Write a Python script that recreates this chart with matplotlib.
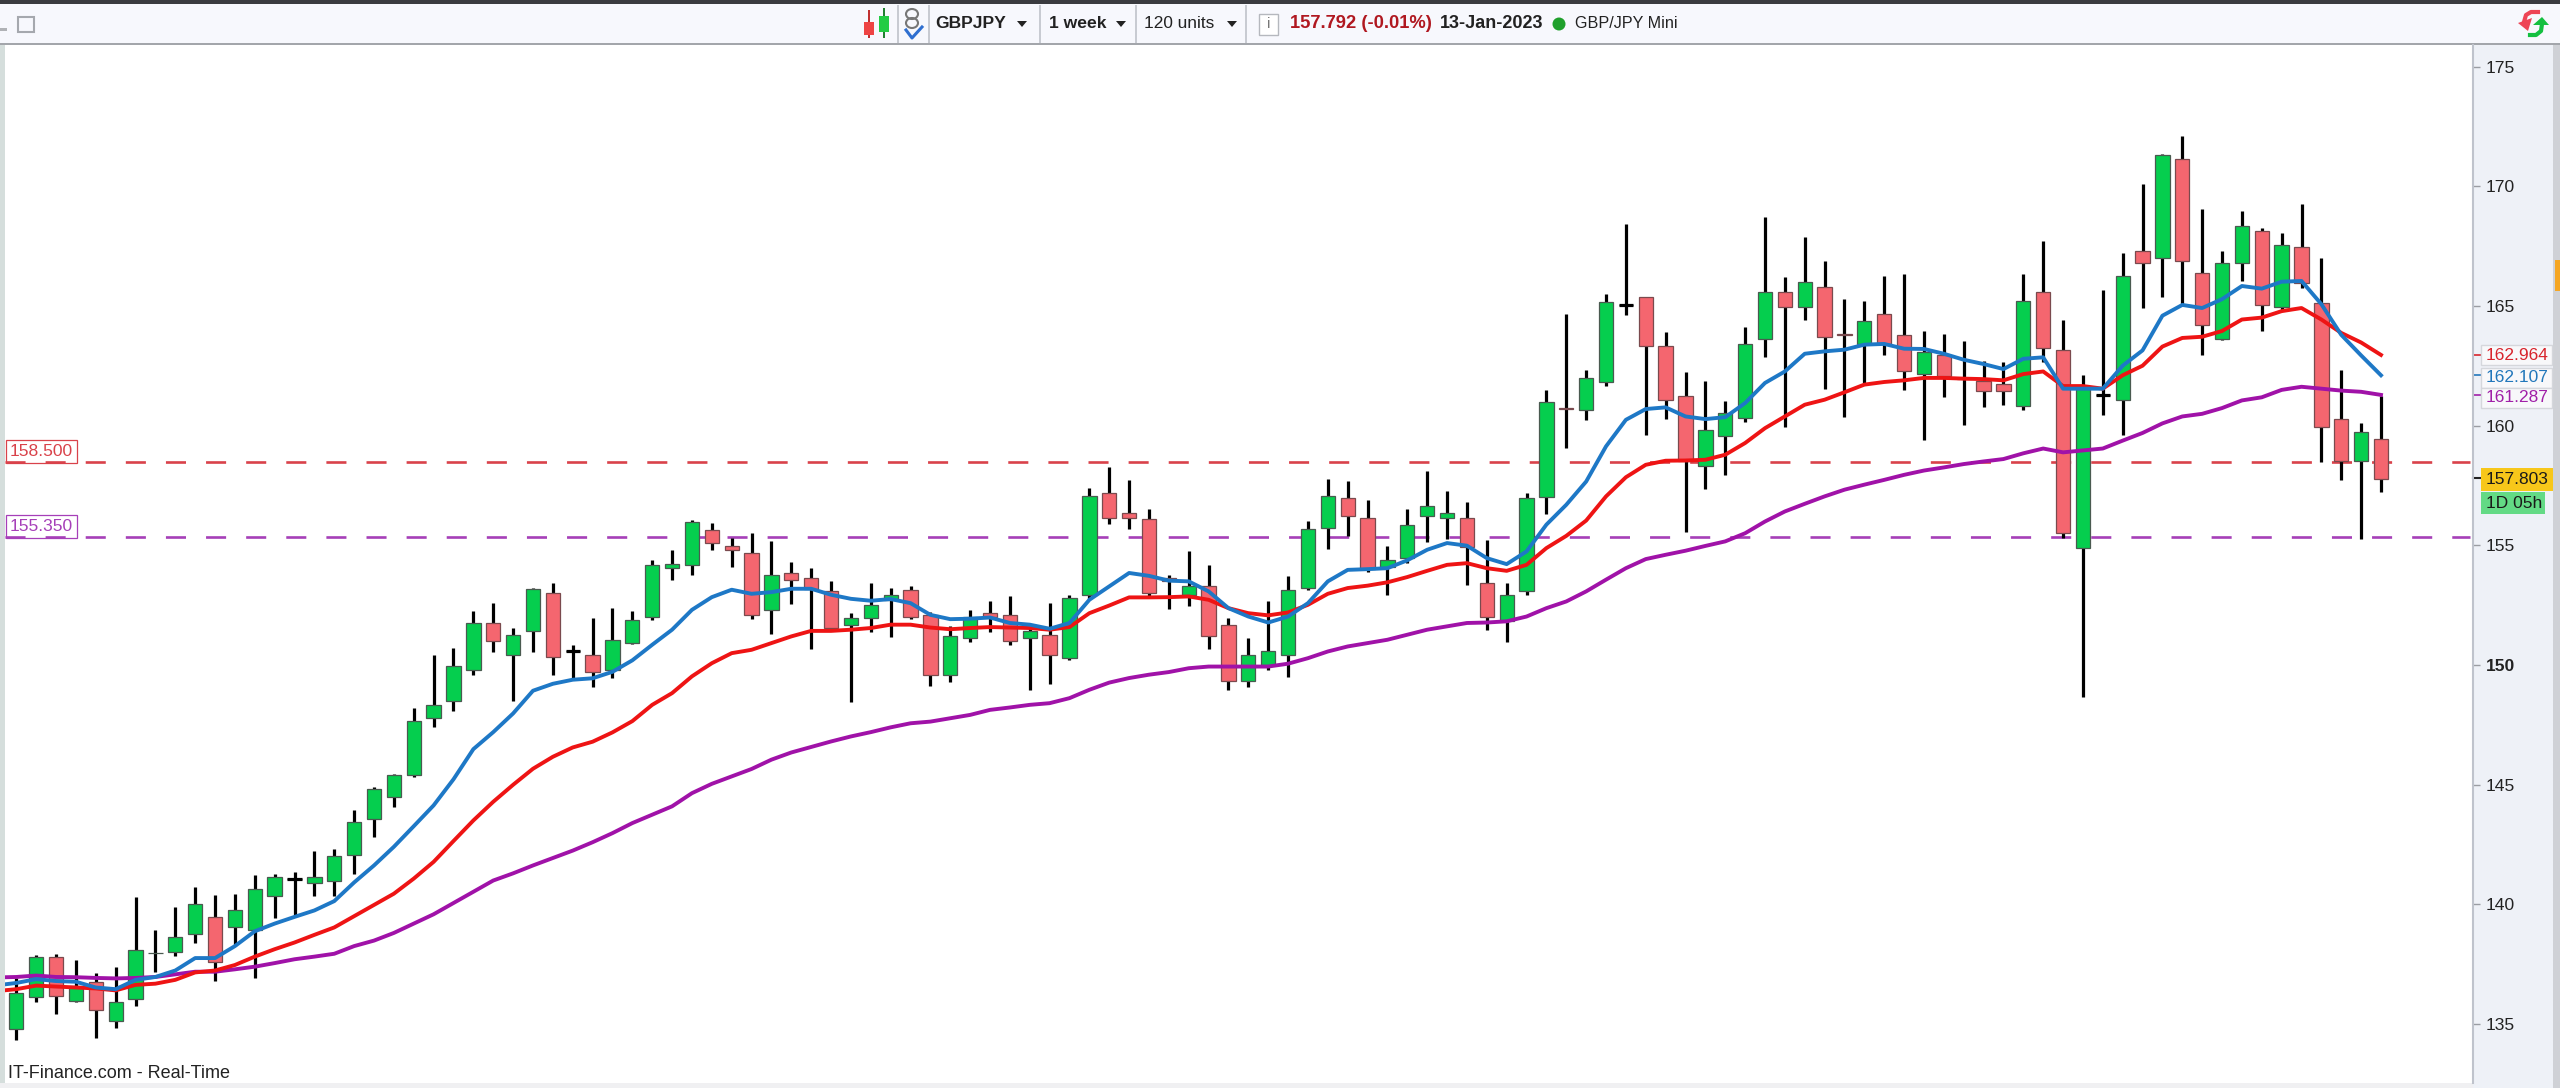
import matplotlib
matplotlib.use('Agg')
import matplotlib.pyplot as plt
from matplotlib.patches import Rectangle, Polygon, Ellipse

plt.rcParams['font.family'] = ['Liberation Sans', 'DejaVu Sans']

# weekly GBPJPY candles
opens = [134.81,136.14,137.82,135.98,136.77,135.15,136.06,137.97,138.02,138.77,
         139.48,139.04,138.93,140.37,141.05,140.89,141.00,142.05,143.59,144.50,
         145.39,147.79,148.48,149.81,151.77,150.42,151.42,153.02,150.61,150.44,
         149.78,150.91,152.03,154.05,154.19,155.66,154.99,154.68,152.31,153.85,
         153.64,153.08,151.69,151.96,152.73,153.15,152.10,149.60,151.13,152.17,
         152.10,151.13,151.27,150.29,152.94,157.19,156.35,156.10,153.64,152.94,
         153.29,151.69,149.32,150.01,150.43,153.22,155.73,156.98,156.14,154.10,
         154.47,156.21,156.15,156.15,153.43,151.83,153.08,157.01,160.75,160.64,
         161.81,165.03,165.37,163.35,161.23,158.33,159.58,160.32,163.62,165.58,
         164.95,165.79,163.85,163.43,164.67,163.81,162.16,162.97,161.98,161.86,
         161.76,160.81,165.61,163.15,154.91,161.30,161.06,167.29,167.01,171.14,
         166.40,163.64,166.80,168.14,164.97,167.49,165.12,160.29,158.52,159.46]
highs = [136.93,137.87,137.94,137.66,137.13,137.40,140.33,138.92,139.90,140.73,
         140.40,140.45,141.24,141.28,141.36,142.25,142.33,143.93,144.92,145.47,
         148.21,150.44,150.72,152.25,152.60,151.55,153.23,153.43,150.83,151.97,
         152.40,152.25,154.40,154.82,156.08,155.94,155.31,155.52,155.17,154.29,
         154.05,153.50,152.17,153.43,153.22,153.29,152.24,151.62,152.31,152.66,
         152.87,151.55,152.59,152.94,157.40,158.26,157.75,156.52,153.78,154.75,
         154.19,151.97,151.13,152.66,153.71,156.01,157.78,157.71,156.91,154.96,
         156.52,158.12,157.29,156.80,155.24,153.43,157.19,161.51,164.67,162.34,
         165.51,168.45,165.37,163.90,162.23,161.88,161.05,164.11,168.73,166.20,
         167.88,166.90,165.30,165.23,166.27,166.34,163.97,163.83,163.55,162.72,
         162.65,166.34,167.70,164.41,162.11,165.68,167.22,170.10,171.35,172.12,
         169.05,167.29,168.97,168.25,168.06,169.26,167.01,162.32,160.13,161.26]
lows = [134.34,135.91,135.41,135.91,134.42,134.84,135.75,137.19,137.83,138.38,
        136.80,138.26,136.93,139.43,139.51,140.37,140.37,141.27,142.80,144.06,
        145.31,147.40,148.08,149.57,150.53,148.52,150.53,149.57,149.43,149.10,
        149.46,150.88,151.87,153.54,153.75,154.79,154.10,151.94,151.31,152.56,
        150.68,151.41,148.45,151.38,151.17,151.92,149.14,149.29,150.95,151.38,
        150.82,148.94,149.21,150.20,152.73,155.91,155.67,152.84,152.35,152.49,
        150.68,148.94,149.08,149.78,149.50,153.12,154.86,155.41,153.87,152.91,
        154.26,155.14,155.27,153.33,151.45,150.96,152.91,156.32,159.07,160.25,
        161.65,164.64,159.63,160.29,155.56,157.37,157.93,160.15,162.87,159.95,
        164.43,161.55,160.36,161.74,162.94,161.48,159.39,161.20,160.02,160.78,
        160.85,160.64,162.67,155.31,148.68,160.47,159.62,164.92,165.40,165.08,
        162.96,163.60,166.05,163.96,164.81,165.77,158.49,157.72,155.28,157.24]
closes = [136.28,137.82,136.19,136.61,135.59,135.94,138.10,137.99,138.65,140.03,
          137.60,139.75,140.66,141.16,141.05,141.16,142.02,143.46,144.81,145.42,
          147.66,148.34,149.97,151.77,150.99,151.27,153.18,150.33,150.61,149.73,
          151.06,151.89,154.19,154.21,155.96,155.10,154.82,152.10,153.78,153.57,
          153.20,151.55,151.96,152.52,152.94,152.03,149.60,151.20,152.03,152.03,
          150.99,151.41,150.43,152.80,157.08,156.15,156.15,153.01,153.52,153.29,
          151.20,149.32,150.43,150.57,153.15,155.69,157.08,156.24,154.01,154.40,
          155.87,156.63,156.35,154.93,152.03,152.94,156.98,160.98,160.70,162.00,
          165.16,165.03,163.35,161.09,158.51,159.83,160.53,163.42,165.58,164.95,
          165.99,163.70,163.78,164.39,163.43,162.27,163.07,162.06,161.95,161.44,
          161.44,165.23,163.23,155.52,161.55,161.30,166.24,166.80,171.32,166.88,
          164.20,166.80,168.36,165.05,167.57,165.97,159.94,158.52,159.73,157.77]

# averages start one week before the first candle, off the left edge
blue_ma = [136.62,136.72,136.88,136.80,136.77,136.53,136.46,136.85,136.97,137.24,137.76,
           137.76,138.26,138.88,139.20,139.48,139.75,140.14,140.92,141.63,142.41,
           143.27,144.14,145.23,146.49,147.20,147.98,148.93,149.22,149.39,149.45,
           149.72,150.20,150.85,151.48,152.31,152.84,153.15,152.98,153.05,153.19,
           153.19,152.94,152.77,152.69,152.76,152.59,152.10,151.92,151.94,151.99,
           151.76,151.69,151.52,151.76,152.73,153.29,153.85,153.73,153.53,153.50,
           153.08,152.38,152.03,151.78,152.03,152.59,153.50,153.98,154.01,154.05,
           154.38,154.82,155.10,154.99,154.47,154.22,154.75,155.87,156.70,157.67,
           159.14,160.25,160.70,160.77,160.39,160.28,160.36,160.95,161.79,162.27,
           163.01,163.11,163.18,163.39,163.42,163.22,163.21,163.01,162.76,162.58,
           162.37,162.80,162.86,161.55,161.55,161.55,162.51,163.15,164.60,165.05,
           164.92,165.29,165.84,165.73,166.02,166.05,165.08,163.80,162.94,162.11]
red_ma = [136.38,136.46,136.61,136.57,136.53,136.49,136.41,136.64,136.69,136.85,137.16,
          137.24,137.47,137.82,138.13,138.41,138.73,139.04,139.51,139.98,140.45,
          141.08,141.78,142.65,143.51,144.29,145.00,145.67,146.17,146.56,146.80,
          147.19,147.66,148.34,148.83,149.53,150.08,150.50,150.64,150.92,151.20,
          151.43,151.43,151.48,151.55,151.69,151.69,151.57,151.50,151.55,151.59,
          151.57,151.55,151.48,151.59,152.17,152.49,152.83,152.83,152.84,152.87,
          152.73,152.38,152.17,152.08,152.20,152.52,152.98,153.22,153.32,153.46,
          153.68,153.94,154.19,154.26,154.05,153.94,154.19,154.89,155.40,156.04,
          157.05,157.85,158.37,158.54,158.55,158.58,158.79,159.28,159.90,160.39,
          160.88,161.09,161.40,161.72,161.83,161.90,162.00,162.00,161.97,161.95,
          161.90,162.16,162.27,161.66,161.66,161.55,162.11,162.51,163.31,163.67,
          163.72,163.96,164.44,164.52,164.79,164.92,164.44,163.88,163.48,162.96]
purple_ma = [136.95,136.97,137.03,136.97,136.96,136.93,136.91,136.93,136.97,137.08,137.19,
             137.19,137.29,137.40,137.55,137.71,137.82,137.94,138.26,138.49,138.81,
             139.20,139.59,140.06,140.53,141.00,141.30,141.63,141.94,142.25,142.60,
             142.98,143.40,143.75,144.10,144.65,145.04,145.35,145.66,146.05,146.35,
             146.58,146.81,147.02,147.20,147.40,147.57,147.64,147.78,147.92,148.13,
             148.23,148.34,148.41,148.62,148.97,149.27,149.46,149.60,149.71,149.87,
             149.94,149.94,149.94,149.94,150.06,150.29,150.57,150.78,150.92,151.06,
             151.27,151.48,151.62,151.76,151.78,151.83,152.03,152.38,152.66,153.08,
             153.57,154.05,154.43,154.61,154.78,154.98,155.17,155.51,156.00,156.42,
             156.74,157.05,157.33,157.54,157.74,157.95,158.13,158.26,158.40,158.51,
             158.61,158.85,159.05,158.89,158.97,159.05,159.38,159.70,160.10,160.39,
             160.50,160.74,161.06,161.19,161.50,161.63,161.55,161.47,161.42,161.29]

levels = [158.5, 155.35]
level_names = ['158.500', '155.350']
level_colors = ['#D9424A', '#A63FB8']
ma_tags = [162.964, 162.107, 161.287]
ma_tag_names = ['162.964', '162.107', '161.287']
ma_tag_colors = ['#D8242C', '#2277BB', '#A020A8']
last_price = 157.803
y_ticks = [135, 140, 145, 150, 155, 160, 165, 170, 175]

W = 2560
H = 1088
fig = plt.figure(figsize=(W / 100, H / 100), dpi=100, facecolor='#F0F2F8')


def fx(x):
    return x / W


def fy(y):
    return 1 - y / H


def box(x0, y0, x1, y1, color, edge='none', z=-1, lw=1):
    # rectangle on the figure, in picture pixels
    fig.add_artist(Rectangle((fx(x0), fy(y1)), (x1 - x0) / W, (y1 - y0) / H, transform=fig.transFigure,
                             facecolor=color, edgecolor=edge, linewidth=lw, zorder=z))


def label(x, y, s, size=12.5, color='#222222', weight='normal', ha='left'):
    fig.text(fx(x), fy(y), s, fontsize=size, color=color, fontweight=weight, ha=ha, va='center')


def tri(points, color):
    fig.add_artist(Polygon([(fx(px), fy(py)) for px, py in points], transform=fig.transFigure,
                           facecolor=color, edgecolor='none', zorder=4))


def stroke(xs, ys, color, width):
    fig.add_artist(plt.Line2D([fx(v) for v in xs], [fy(v) for v in ys], color=color, linewidth=width, zorder=4))


def arrow_down(x, y):
    tri([(x - 5, y - 3), (x + 5, y - 3), (x, y + 3)], '#222222')


# top bar and right panel
box(0, 0, W, 4, '#3A3B40')
box(0, 4, W, 43, '#F7F8FD')
box(0, 43, W, 45, '#A3A6AB')
box(2473, 45, 2553, 1088, '#EEF1F7')
box(2553, 45, 2560, 1088, '#CFD1D6')
box(2555, 260, 2560, 291, '#F5A623')
box(0, 45, 5, 1088, '#D5DEDC')
box(0, 1083, 2473, 1088, '#F0F0F2')

ax = fig.add_axes([5 / W, (H - 1083) / H, (2473 - 5) / W, (1083 - 45) / H])
ax.set_facecolor('white')
ax.set_xlim(-0.57, 123.63)
ax.set_ylim(132.54, 175.91)

idx = list(range(len(opens)))
ma_idx = list(range(-1, len(opens)))

for lev, col in zip(levels, level_colors):
    ax.hlines(lev, -0.57, 123.5, colors=col, linewidth=1.9, linestyles=(0, (7.6, 7.6)), zorder=1)

ax.vlines(idx, lows, highs, colors='black', linewidth=2.3, zorder=2)
for i in idx:
    up = closes[i] >= opens[i]
    bottom = min(opens[i], closes[i])
    ax.bar(i, abs(closes[i] - opens[i]), 0.72, bottom, color='#05CE4E' if up else '#F4666F',
           edgecolor='#4A5A50' if up else '#7A4A4E', linewidth=0.9, zorder=3)
    if abs(closes[i] - opens[i]) < 0.01:
        ax.hlines(opens[i], i - 0.36, i + 0.36, colors='black', linewidth=2.3, zorder=3)

ax.plot(ma_idx, purple_ma, color='#A012A8', linewidth=2.8, zorder=4)
ax.plot(ma_idx, red_ma, color='#EE1414', linewidth=2.8, zorder=5)
ax.plot(ma_idx, blue_ma, color='#1E78C6', linewidth=2.8, zorder=6)

# right axis
ax.yaxis.tick_right()
ax.set_yticks(y_ticks)
ax.set_yticklabels([str(t) for t in y_ticks], fontsize=12.6, color='#222222')
ax.set_xticks([])
ax.tick_params(axis='y', length=5, width=1, color='#9A9DA3', pad=4)
for t in ax.get_yticklabels():
    if t.get_text() == '150':
        t.set_fontweight('bold')
for side in ['top', 'left', 'bottom']:
    ax.spines[side].set_visible(False)
ax.spines['right'].set_color('#BFC3CC')
ax.spines['right'].set_linewidth(1.5)

# boxes for the levels on the left
for lev, name, col in zip(levels, level_names, level_colors):
    ax.annotate(name, (0, lev), xycoords=('axes fraction', 'data'), xytext=(3.5, 7.5), textcoords='offset points',
                fontsize=12.6, color=col, va='center', ha='left',
                bbox=dict(boxstyle='square,pad=0.22', facecolor='none', edgecolor=col, linewidth=0.9))

# moving average tags on the right
tag_y = [355, 378, 398]
for val, name, col, y in zip(ma_tags, ma_tag_names, ma_tag_colors, tag_y):
    box(2481, y - 10, 2552, y + 10, '#F8F8FA', edge='#D5D7DC', z=2)
    label(2486, y, name, size=12.5, color=col)
    ax.plot([1.0, 1.012], [val, val], color=col, linewidth=1.2, transform=ax.get_yaxis_transform(), clip_on=False)

box(2481, 468, 2553, 491, '#F7C71A', z=2)
label(2486, 480, '157.803', size=12.5, color='#1A1A1A')
ax.plot([1.0, 1.004], [last_price, last_price], color='#222222', linewidth=1.5,
        transform=ax.get_yaxis_transform(), clip_on=False)
box(2481, 492, 2545, 514, '#63DA85', z=2)
label(2486, 503, '1D 05h', size=12.5, color='#1A1A1A')

label(8, 1073, 'IT-Finance.com - Real-Time', size=13, color='#222222')

# toolbar
label(935, 24, 'GBPJPY', size=12.6, weight='bold')
arrow_down(1022, 24)
label(1049, 24, '1 week', size=12.6, weight='bold')
arrow_down(1121, 24)
label(1144, 24, '120 units', size=12.4)
arrow_down(1232, 24)
label(1290, 24, '157.792 (-0.01%)', size=13.2, weight='bold', color='#B01820')
label(1440, 24, '13-Jan-2023', size=13, weight='bold')
label(1575, 24, 'GBP/JPY Mini', size=11.6)
fig.add_artist(Ellipse((fx(1559), fy(24)), 13 / W, 13 / H, transform=fig.transFigure, facecolor='#1FA02C',
                       edgecolor='none', zorder=4))
for sx in [897, 928, 1039, 1135, 1245]:
    box(sx, 5, sx + 1.5, 43, '#C8CBD2', z=2)
box(1259, 14, 1278, 35, '#FFFFFF', edge='#B5B8BE', z=2)
label(1268.5, 24, 'i', size=11, color='#777777', ha='center')

# candle icon
box(868, 10, 870, 38, '#C03030', z=3)
box(864, 22, 874, 35, '#EE4444', z=4)
box(883, 8, 885, 38, '#208030', z=3)
box(879, 16, 889, 32, '#22CC44', z=4)
# chain icon
fig.add_artist(Ellipse((fx(912), fy(14)), 12 / W, 10 / H, transform=fig.transFigure, facecolor='none',
                       edgecolor='#777777', linewidth=1.5, zorder=3))
fig.add_artist(Ellipse((fx(912), fy(23)), 12 / W, 10 / H, transform=fig.transFigure, facecolor='none',
                       edgecolor='#777777', linewidth=1.5, zorder=3))
stroke([906, 912, 922], [30, 38, 27], '#2F6FD0', 2.2)

# small window buttons and swap arrows
box(18, 17, 34, 32, '#F7F8FD', edge='#A5A8AE', z=3, lw=1.5)
box(0, 28, 7, 31, '#B0B2B6', z=3)
stroke([2538, 2531, 2526, 2524], [12, 12, 15, 22], '#EE4455', 3)
tri([(2518, 23), (2532, 18), (2528, 31)], '#EE4455')
stroke([2530, 2536, 2541, 2542], [35, 35, 31, 24], '#14C040', 3)
tri([(2533, 25), (2549, 25), (2542, 17)], '#14C040')

fig.savefig('out.png', dpi=100)
